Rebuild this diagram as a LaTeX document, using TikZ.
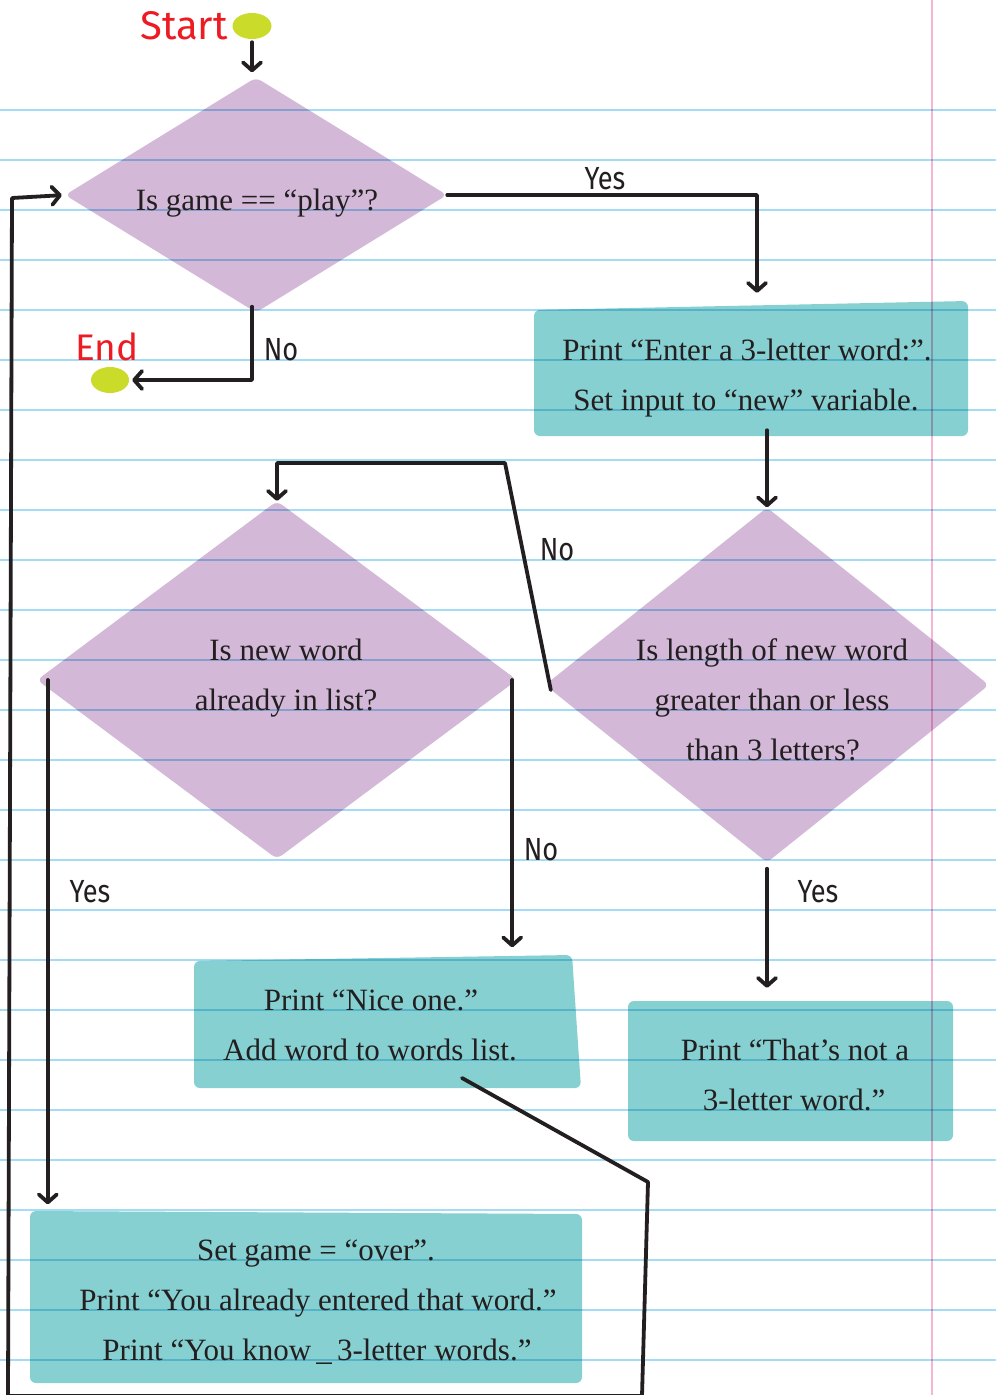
\documentclass[tikz,border=0pt]{standalone}
\usepackage{fontspec}
\setmainfont{Liberation Serif}
\newfontfamily\handfont[FakeStretch=0.85]{Fira Sans}
\newfontfamily\titlefont{Fira Sans}
\usetikzlibrary{arrows.meta,shapes.geometric}
\definecolor{inkc}{HTML}{231F20}
\definecolor{purp}{HTML}{D3B8D8}
\definecolor{tealc}{HTML}{86D0D1}
\definecolor{rulec}{HTML}{A3DCF4}
\definecolor{pinkc}{HTML}{F5B6D3}
\definecolor{redc}{HTML}{ED1C24}
\definecolor{greenc}{HTML}{CBDB2A}
\tikzset{
  decision/.style={diamond, fill=purp, inner sep=0pt, rounded corners=6pt},
  terminal/.style={ellipse, fill=greenc, inner sep=0pt},
  boxanchor/.style={rectangle, inner sep=0pt},
  boxfill/.style={fill=tealc, rounded corners=6pt},
  bodytext/.style={anchor=base, inner sep=0pt, text=inkc, font=\fontsize{31}{37}\selectfont},
  flowlabel/.style={anchor=base, inner sep=0pt, text=inkc, font=\handfont\fontsize{32}{36}\selectfont},
  termlabel/.style={anchor=base, inner sep=0pt, text=redc, font=\titlefont\fontsize{40}{44}\selectfont},
  arr/.style={draw=inkc, line width=3.8pt, line cap=round, line join=round, -{Straight Barb[length=8pt,width=18pt,round]}},
  ruled/.style={draw=rulec, line width=2.2pt},
}
\begin{document}
\begin{tikzpicture}[x=1pt,y=-1pt]
\useasboundingbox (0,0) rectangle (996,1395);
\fill[white] (0,0) rectangle (996,1395);

% boxes (fills)
\fill[boxfill] (534,310) -- (968,301) -- (968,436) -- (534,436) -- cycle;
\fill[boxfill] (194,961) -- (572,955) -- (581,1088) -- (194,1088) -- cycle;
\fill[boxfill] (628,1001) -- (953,1001) -- (953,1141) -- (628,1141) -- cycle;
\fill[boxfill] (30,1211) -- (582,1214) -- (582,1383) -- (30,1383) -- cycle;

\node[boxanchor, minimum width=434pt, minimum height=134pt] (b1) at (751,369) {};
\node[boxanchor, minimum width=387pt, minimum height=133pt] (b2) at (387,1022) {};
\node[boxanchor, minimum width=325pt, minimum height=140pt] (b3) at (790,1071) {};
\node[boxanchor, minimum width=552pt, minimum height=171pt] (b4) at (306,1297) {};

% decisions
\node[decision, minimum width=382pt, minimum height=235pt] (d1) at (256,195) {};
\node[decision, minimum width=480pt, minimum height=358pt] (d2) at (277,680) {};
\node[decision, minimum width=444pt, minimum height=355pt] (d3) at (767,685) {};

% terminals
\node[terminal, minimum width=39pt, minimum height=26pt] (start) at (252,26) {};
\node[terminal, minimum width=38pt, minimum height=26pt] (end) at (110,380) {};

% ruled paper lines (multiply over the shapes)
\begin{scope}[blend mode=multiply]
\foreach \yy in {110,160,...,1360} { \draw[ruled] (0,\yy) -- (996,\yy); }
\draw[draw=pinkc, line width=2pt] (932,0) -- (932,1395);
\end{scope}

% texts
\node[termlabel, anchor=base east] (starttxt) at (228,39) {Start};
\node[termlabel, font=\titlefont\fontsize{37}{40}\selectfont] (endtxt) at (107,360) {End};

\node[bodytext] (t1) at (257,210) {Is game == “play”?};
\node[bodytext] (t2a) at (747,360) {Print “Enter a 3-letter word:”.};
\node[bodytext] (t2b) at (746,410) {Set input to “new” variable.};
\node[bodytext] (t3a) at (772,660) {Is length of new word};
\node[bodytext] (t3b) at (772,710) {greater than or less};
\node[bodytext] (t3c) at (773,760) {than 3 letters?};
\node[bodytext] (t4a) at (286,660) {Is new word};
\node[bodytext] (t4b) at (286,710) {already in list?};
\node[bodytext] (t5a) at (371,1010) {Print “Nice one.”};
\node[bodytext] (t5b) at (370,1060) {Add word to words list.};
\node[bodytext] (t6a) at (795,1060) {Print “That’s not a};
\node[bodytext] (t6b) at (794,1110) {3-letter word.”};
\node[bodytext] (t7a) at (316,1260) {Set game = “over”.};
\node[bodytext] (t7b) at (318,1310) {Print “You already entered that word.”};
\node[bodytext] (t7c) at (317,1360) {Print “You know\,\_\,3-letter words.”};

\node[flowlabel] (l1) at (605,189) {Yes};
\node[flowlabel] (l2) at (281,360) {No};
\node[flowlabel] (l3) at (557,560) {No};
\node[flowlabel] (l4) at (541,860) {No};
\node[flowlabel] (l5) at (90,902) {Yes};
\node[flowlabel] (l6) at (818,902) {Yes};

% helper coordinates on node edges
\coordinate (d2w) at ([xshift=11pt]d2.west);
\coordinate (d2e) at ([xshift=-5pt]d2.east);
\coordinate (d3w) at ([shift={(6,5)}]d3.west);
\coordinate (k1) at (505,463);
\coordinate (b2o) at ([shift={(75,56)}]b2.center);
\coordinate (c1) at (648,1182);
\coordinate (c2) at (642,1396);
\coordinate (c3) at (8,1396);
\coordinate (c4) at (12,198);

% connectors
\draw[arr, shorten <=3pt, shorten >=5pt] (start) -- (start |- d1.north);
\draw[arr, shorten >=9pt] (d1.east) -| ([xshift=6pt]b1.north);
\draw[arr, shorten <=-6pt, shorten >=3pt] (start |- d1.south) |- (end);
\draw[arr, shorten <=-6pt] (d3.north |- b1.south) -- (d3.north);
\draw[arr] (d3w) -- (k1) -| (d2.north);
\draw[arr, shorten >=7pt] (d2w) -- (d2w |- b4.north);
\draw[arr, shorten >=8pt] (d2e) -- (d2e |- b2.north);
\draw[arr, shorten <=6pt, shorten >=13pt] (d3.south) -- (d3.south |- b3.north);
\draw[arr, shorten >=3pt] (b2o) -- (c1) -- (c2) -- (c3) -- (c4) -- (d1.west);
\end{tikzpicture}
\end{document}
